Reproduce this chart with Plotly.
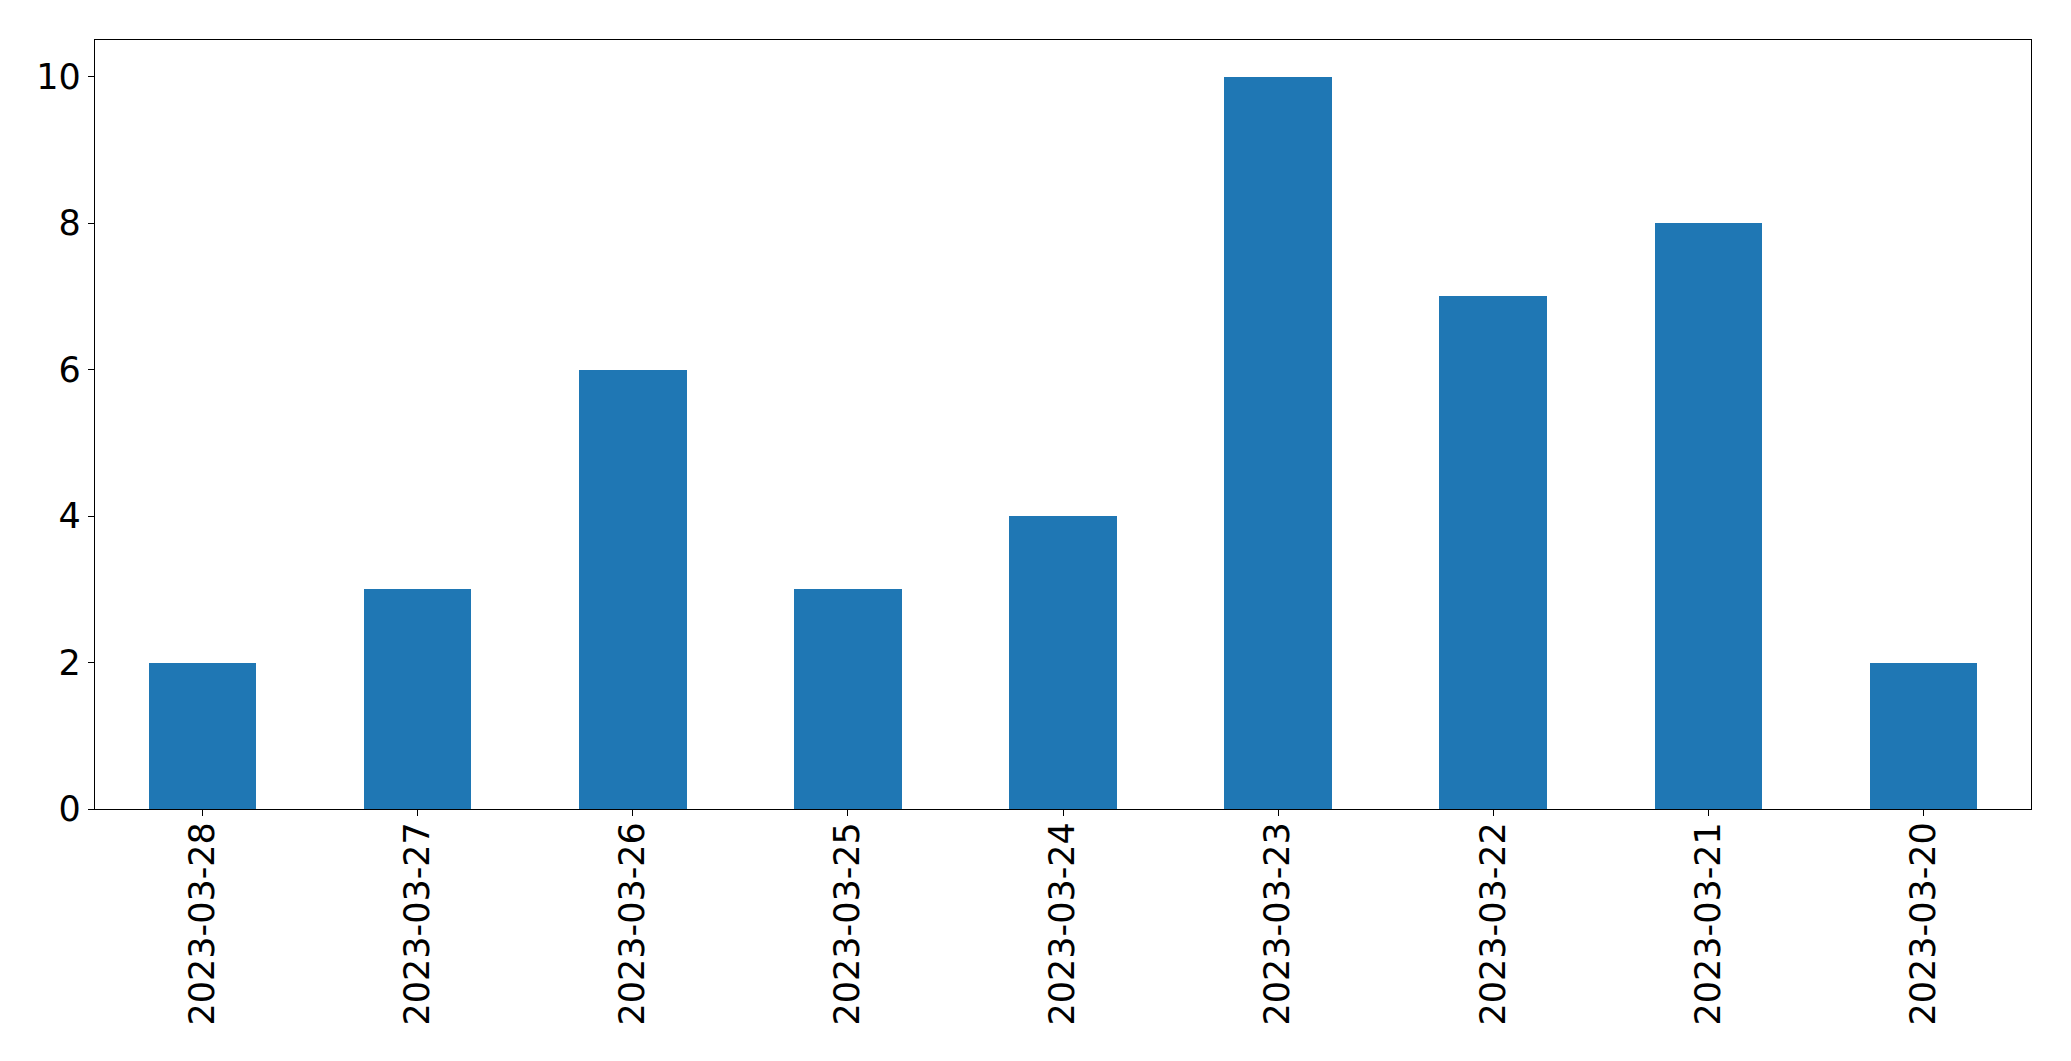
import plotly.graph_objects as go

dates = ["2023-03-28", "2023-03-27", "2023-03-26", "2023-03-25", "2023-03-24",
         "2023-03-23", "2023-03-22", "2023-03-21", "2023-03-20"]
counts = [2, 3, 6, 3, 4, 10, 7, 8, 2]
y_ticks = [0, 2, 4, 6, 8, 10]

fig = go.Figure(go.Bar(x=dates, y=counts, width=0.5, marker=dict(color="#1f77b4", line=dict(width=0))))

axis_common = dict(showline=True, linecolor="black", linewidth=1.3, mirror=True,
                   ticks="outside", ticklen=6, tickwidth=1.3, tickcolor="black",
                   showgrid=False, zeroline=False,
                   tickfont=dict(family="DejaVu Sans", size=35, color="black"))

fig.update_layout(
    width=2071, height=1061,
    margin=dict(l=94.5, r=39.5, t=39.5, b=252),
    plot_bgcolor="white", paper_bgcolor="white",
    showlegend=False,
    bargap=0,
    xaxis=dict(type="category", range=[-0.5, 8.5], tickangle=-90, **axis_common),
    yaxis=dict(range=[0, 10.5], tickvals=y_ticks, **axis_common),
)
fig.update_xaxes(ticklabelstandoff=-8)

fig.write_html("out.html")
